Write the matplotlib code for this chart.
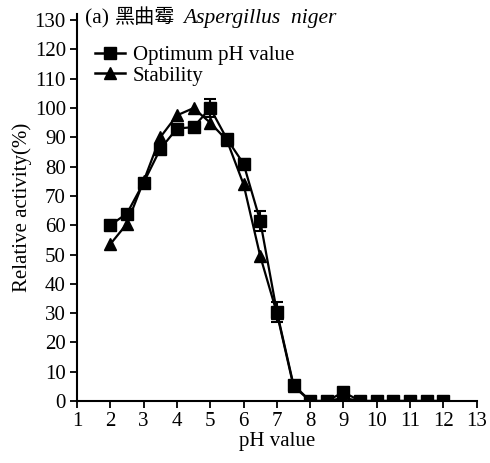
import matplotlib
matplotlib.use("Agg")
import matplotlib.pyplot as plt
from matplotlib.lines import Line2D

# pH values tested
ph = [2, 2.5, 3, 3.5, 4, 4.5, 5, 5.5, 6, 6.5, 7, 7.5, 8, 8.5, 9, 9.5, 10, 10.5, 11, 11.5, 12]

# relative activity (%)
optimum = [60, 64, 74.5, 86, 93, 93.5, 100, 89.5, 81, 61.5, 30.5, 5.5, 0, 0, 3, 0, 0, 0, 0, 0, 0]
optimum_err = [0, 0, 0, 0, 0, 0, 3, 0, 1.5, 3.4, 3.4, 0, 0, 0, 0, 0, 0, 0, 0, 0, 0]
stability = [53.5, 60.5, 75, 90, 97.5, 100, 95, 89, 74, 49.5, 30, 5, 0, 0, 1, 0, 0, 0, 0, 0, 0]

xticks = list(range(1, 14))
yticks = list(range(0, 131, 10))

plt.rcParams["font.family"] = ["Liberation Serif", "Noto Sans CJK SC"]
plt.rcParams["font.size"] = 15

fig = plt.figure(figsize=(4.9, 4.63), dpi=100)
ax = fig.add_axes([0.157, 0.134, 0.816, 0.835])

ax.errorbar(ph, optimum, yerr=optimum_err, color="black", marker="s", markersize=8,
            linewidth=1.6, capsize=4, elinewidth=1.5, capthick=1.5, zorder=3)
ax.plot(ph, stability, color="black", marker="^", markersize=8, linewidth=1.6, zorder=2)

ax.set_xlim(1, 13)
ax.set_ylim(0, 132)
ax.set_xticks(xticks)
ax.set_yticks(yticks)
ax.spines["top"].set_visible(False)
ax.spines["right"].set_visible(False)
for s in ("left", "bottom"):
    ax.spines[s].set_linewidth(1.5)
ax.tick_params(direction="out", width=1.3, length=5, pad=3)

ax.set_xlabel("pH value", labelpad=1)
ax.set_ylabel("Relative activity(%)", labelpad=2)

# title pieces placed separately to match the spacing of the original
ax.text(1.24, 130.5, "(a)", va="center", ha="left", fontsize=15.5)
ax.text(2.14, 130.5, "黑曲霉", va="center", ha="left", fontsize=14.5)
ax.text(4.18, 130.5, "Aspergillus  niger", va="center", ha="left", style="italic",
        fontsize=15.5)

handles = [
    Line2D([], [], color="black", marker="s", markersize=8, linewidth=1.8),
    Line2D([], [], color="black", marker="^", markersize=8, linewidth=1.8),
]
ax.legend(handles, ["Optimum pH value", "Stability"], loc="upper left",
          bbox_to_anchor=(0.015, 0.952), frameon=False, handlelength=1.4,
          handletextpad=0.4, labelspacing=0.05, borderaxespad=0.2, fontsize=15)

fig.savefig("out.png", dpi=100)
